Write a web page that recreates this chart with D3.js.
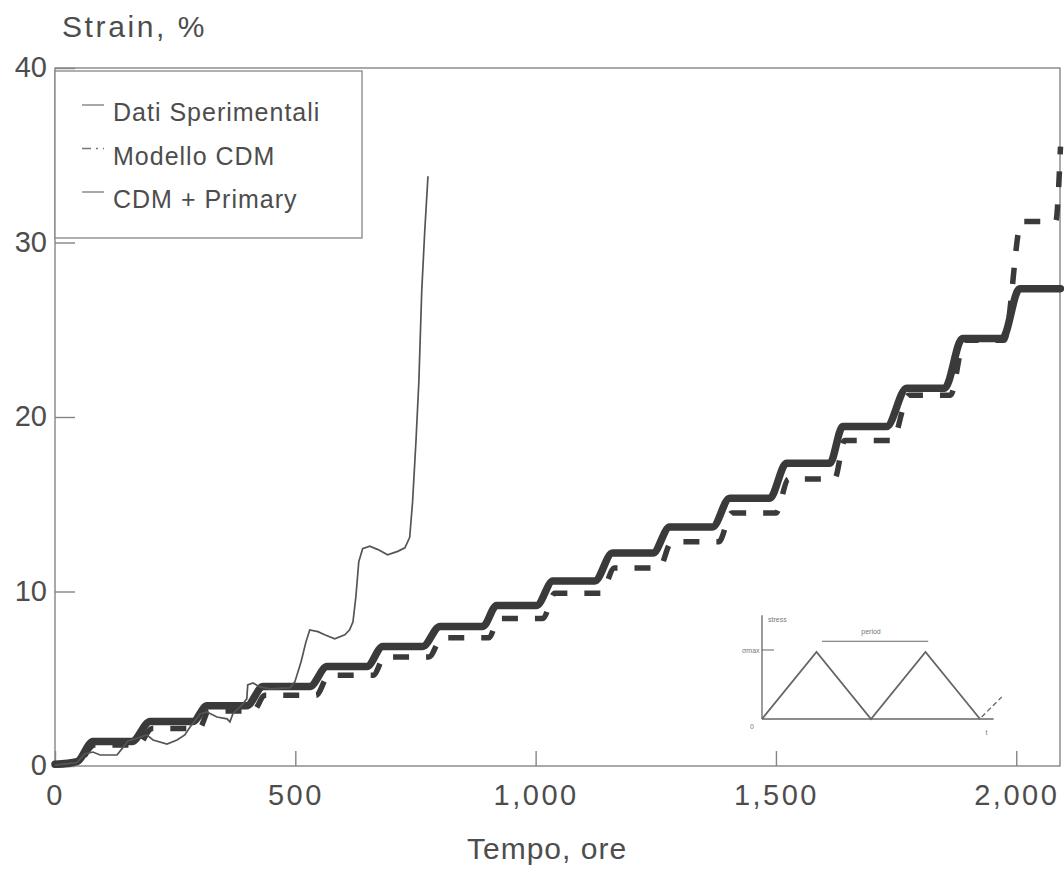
<!DOCTYPE html>
<html>
<head>
<meta charset="utf-8">
<script src="https://cdn.jsdelivr.net/npm/d3@7"></script>
<style>
  body { margin: 0; background: #fff; }
  text { font-family: "Liberation Sans", Arial, sans-serif; fill: #4d4d4d; }
</style>
</head>
<body>
<div id="chart"></div>
<script>
// values (time in hours, strain in %)
const xTicks = [0, 500, 1000, 1500, 2000];
const yTicks = [0, 10, 20, 30, 40];
const seriesNames = ["Dati Sperimentali", "Modello CDM", "CDM + Primary"];

const expTime = [0, 46, 62, 79, 94, 129, 139, 152, 166, 191, 204, 233, 254, 270, 281, 302, 316, 337, 358, 364,
  370, 391, 399, 401, 412, 426, 447, 489, 499, 512, 522, 530, 547, 561, 582, 603, 613, 620, 626, 632,
  640, 655, 672, 692, 713, 728, 738, 744, 751, 757, 763, 769, 776];
const expStrain = [0.05, 0.2, 0.7, 0.8, 0.63, 0.63, 0.98, 1.43, 1.55, 1.78, 1.49, 1.26, 1.49, 1.78, 2.24, 2.98, 3.1, 2.81, 2.7, 2.53,
  2.98, 3.56, 3.85, 4.65, 4.76, 4.53, 4.42, 4.48, 4.82, 5.97, 7.1, 7.8, 7.7, 7.52, 7.29, 7.52, 7.8, 8.26, 9.7, 11.7,
  12.45, 12.6, 12.4, 12.1, 12.3, 12.5, 13.1, 15.15, 18.6, 22.0, 27.2, 30.5, 33.8];

const cdmTime = [0, 46, 82, 172, 202, 300, 320, 412, 437, 543, 570, 662, 686, 778, 805, 903, 923, 1015, 1040, 1136,
  1164, 1257, 1283, 1381, 1408, 1500, 1526, 1622, 1643, 1742, 1776, 1863, 1892, 1975, 2011, 2082, 2092];
const cdmStrain = [0.05, 0.15, 1.2, 1.2, 2.15, 2.15, 3.15, 3.15, 4.05, 4.05, 5.2, 5.2, 6.25, 6.25, 7.35, 7.35, 8.45, 8.45, 9.9, 9.9,
  11.35, 11.35, 12.85, 12.85, 14.5, 14.5, 16.45, 16.45, 18.65, 18.65, 21.25, 21.25, 24.4, 24.4, 31.2, 31.2, 35.5];

const primTime = [0, 46, 79, 160, 198, 287, 316, 399, 433, 530, 566, 649, 682, 765, 801, 890, 919, 1002,
  1036, 1123, 1160, 1244, 1279, 1368, 1404, 1487, 1522, 1612, 1639, 1730, 1772, 1851, 1888, 1971, 2007, 2092];
const primStrain = [0.1, 0.25, 1.4, 1.4, 2.55, 2.55, 3.45, 3.45, 4.55, 4.55, 5.7, 5.7, 6.85, 6.85, 8.0, 8.0, 9.2, 9.2,
  10.6, 10.6, 12.2, 12.2, 13.7, 13.7, 15.35, 15.35, 17.35, 17.35, 19.45, 19.45, 21.65, 21.65, 24.5, 24.5, 27.35, 27.35];

// little load-cycle sketch in the lower right
const insetPhase = [0, 1, 2, 3, 4];
const insetStress = [0, 1, 0, 1, 0];

const width = 1064, height = 873;
const ink = "#3a3a3a", frameColor = "#858585";

const svg = d3.select("#chart")
  .append("svg")
  .attr("width", width)
  .attr("height", height);

const x = d3.scaleLinear().domain([0, 2091]).range([55, 1060]);
const y = d3.scaleLinear().domain([0, 40]).range([766, 68]);

// frame
svg.append("rect")
  .attr("x", x(0)).attr("y", y(40))
  .attr("width", x(2091) - x(0)).attr("height", y(0) - y(40))
  .attr("fill", "none").attr("stroke", frameColor).attr("stroke-width", 1.4);

// x axis, ticks pointing inward
const xAxis = svg.append("g")
  .attr("transform", `translate(0, ${y(0)})`)
  .call(d3.axisBottom(x).tickValues(xTicks).tickSize(-15).tickPadding(18).tickFormat(d3.format(",")));
xAxis.select(".domain").remove();
xAxis.selectAll("line").attr("stroke", frameColor).attr("stroke-width", 1.4);
xAxis.selectAll("text")
  .style("font-size", "29px").style("letter-spacing", "2.5px")
  .attr("fill", "#4d4d4d");

// y axis
const yAxis = svg.append("g")
  .attr("transform", `translate(${x(0)}, 0)`)
  .call(d3.axisLeft(y).tickValues(yTicks).tickSize(-20).tickPadding(8));
yAxis.select(".domain").remove();
yAxis.selectAll("line").attr("stroke", frameColor).attr("stroke-width", 1.4);
yAxis.selectAll("text")
  .style("font-size", "29px")
  .attr("dy", "0.3em")
  .attr("fill", "#4d4d4d");

// axis titles
svg.append("text")
  .attr("x", 62).attr("y", 37)
  .style("font-size", "30px").style("letter-spacing", "2.6px")
  .text("Strain, %");

svg.append("text")
  .attr("x", 467).attr("y", 859)
  .style("font-size", "30px").style("letter-spacing", "1px")
  .text("Tempo, ore");

// series
const line = d3.line()
  .x(d => x(d[0]))
  .y(d => y(d[1]))
  .curve(d3.curveMonotoneX);

svg.append("path")
  .datum(d3.zip(cdmTime, cdmStrain))
  .attr("fill", "none")
  .attr("stroke", ink)
  .attr("stroke-width", 5.5)
  .attr("stroke-dasharray", "16 17")
  .attr("d", line);

svg.append("path")
  .datum(d3.zip(primTime, primStrain))
  .attr("fill", "none")
  .attr("stroke", ink)
  .attr("stroke-width", 7.5)
  .attr("stroke-linejoin", "round")
  .attr("stroke-linecap", "round")
  .attr("d", line);

svg.append("path")
  .datum(d3.zip(expTime, expStrain))
  .attr("fill", "none")
  .attr("stroke", "#555")
  .attr("stroke-width", 1.7)
  .attr("d", d3.line().x(d => x(d[0])).y(d => y(d[1])));

// legend
const legend = svg.append("g");
legend.append("rect")
  .attr("x", 55).attr("y", 71).attr("width", 307).attr("height", 167)
  .attr("fill", "#fff").attr("stroke", frameColor).attr("stroke-width", 1.3);

const legendDash = [null, "9 5 2 5", null];
seriesNames.forEach((name, i) => {
  const base = 121 + i * 43.5;
  legend.append("line")
    .attr("x1", 82).attr("x2", 104)
    .attr("y1", base - 16).attr("y2", base - 16)
    .attr("stroke", "#777").attr("stroke-width", 1.3)
    .attr("stroke-dasharray", legendDash[i]);
  legend.append("text")
    .attr("x", 113).attr("y", base)
    .style("font-size", "25px").style("letter-spacing", "1px")
    .text(name);
});

// inset sketch
const ix = d3.scaleLinear().domain([0, 4]).range([762, 980]);
const iy = d3.scaleLinear().domain([0, 1]).range([719, 652]);
const inset = svg.append("g").attr("stroke", "#666").attr("fill", "none");

inset.append("line").attr("x1", ix(0)).attr("x2", ix(0)).attr("y1", iy(0)).attr("y2", iy(1.55)).attr("stroke-width", 1.3);
inset.append("line").attr("x1", ix(0)).attr("x2", ix(4.25)).attr("y1", iy(0)).attr("y2", iy(0)).attr("stroke-width", 1.3);
inset.append("line").attr("x1", ix(0)).attr("x2", ix(0.22)).attr("y1", iy(1.03)).attr("y2", iy(1.03)).attr("stroke-width", 1);

inset.append("path")
  .datum(d3.zip(insetPhase, insetStress))
  .attr("stroke-width", 1.8)
  .attr("d", d3.line().x(d => ix(d[0])).y(d => iy(d[1])));

inset.append("line")
  .attr("x1", ix(4.03)).attr("y1", iy(0.03))
  .attr("x2", ix(4.4)).attr("y2", iy(0.33))
  .attr("stroke-width", 1.3).attr("stroke-dasharray", "5 3");

inset.append("line")
  .attr("x1", ix(1.1)).attr("x2", ix(3.05))
  .attr("y1", iy(1.16)).attr("y2", iy(1.16))
  .attr("stroke-width", 1);

const insetText = svg.append("g").style("font-size", "7px");
insetText.append("text").attr("x", ix(0) + 6).attr("y", iy(1.45)).style("fill", "#777").text("stress");
insetText.append("text").attr("x", ix(2)).attr("y", iy(1.27)).attr("text-anchor", "middle").style("fill", "#777").text("period");
insetText.append("text").attr("x", ix(0) - 20).attr("y", iy(1.03) + 3).style("fill", "#777").text("σmax");
insetText.append("text").attr("x", ix(0) - 12).attr("y", iy(0) + 10).style("fill", "#777").text("0");
insetText.append("text").attr("x", ix(4.1)).attr("y", iy(0) + 16).style("fill", "#777").text("t");
</script>
</body>
</html>
